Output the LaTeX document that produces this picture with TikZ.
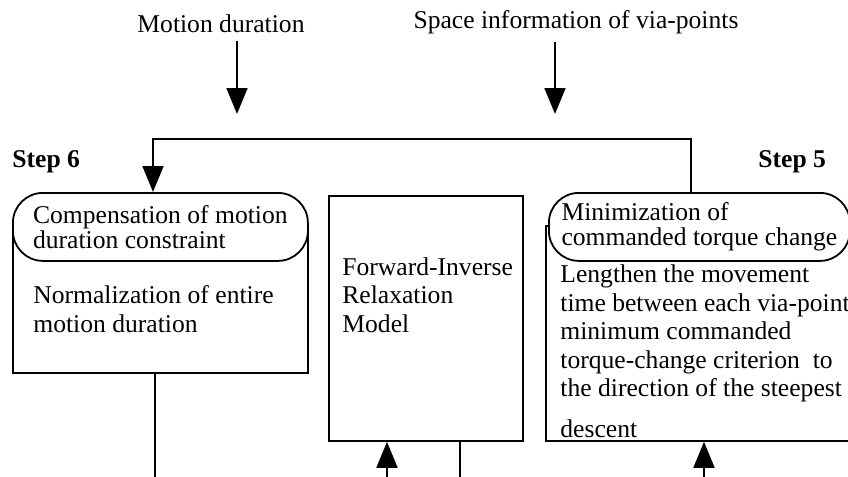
\documentclass[tikz,border=0pt]{standalone}
\usepackage{fontspec}
\setmainfont{Liberation Serif}
\usetikzlibrary{arrows.meta,positioning}
\tikzset{
  toplabel/.style={anchor=base,inner sep=4pt,font=\fontsize{12.8}{14.25}\selectfont},
  steplabel/.style={anchor=base west,inner sep=0pt,font=\fontsize{12.8}{14.25}\selectfont\bfseries},
  outerbox/.style={draw,line width=.9pt,anchor=north west,inner sep=0pt},
  headbox/.style={
    draw,fill=white,line width=.9pt,rounded corners=15pt,
    anchor=north west,minimum height=34pt,align=left,inner sep=0pt,
    font=\fontsize{12.8}{12.5}\selectfont
  },
  bodytext/.style={anchor=base west,align=left,inner sep=0pt,font=\fontsize{12.8}{14.25}\selectfont},
  arrow/.style={-{Triangle[length=13pt,width=10.5pt]},line width=.9pt},
  link/.style={line width=.9pt}
}

\begin{document}
\begin{tikzpicture}[x=0.5pt,y=-0.5pt]
\useasboundingbox (0,0) rectangle (848,477);
\clip (0,0) rectangle (848,477);
\node[toplabel] (dur) at (221,32) {Motion duration};
\node[toplabel] (space) at (576,28) {Space information of via-points};
\coordinate (durtip) at (237,114);
\coordinate (spacetip) at (555,114);
\draw[arrow] (dur.south -| durtip) -- (durtip);
\draw[arrow] (space.south -| spacetip) -- (spacetip);

\node[steplabel] (step6) at (12,167) {Step 6};
\node[steplabel] (step5) at (758,167) {Step 5};

\node[outerbox,minimum width=147.5pt,minimum height=73.5pt] (compbox) at (12,225) {};
\node[headbox,minimum width=147.5pt] (comphead) at (12,192)
{Compensation of motion\\duration constraint};
\node[bodytext] (comptext) at (33,332) {Normalization of entire\\motion duration};

\node[outerbox,minimum width=97pt,minimum height=122.5pt] (firbox) at (328,195) {};
\node[bodytext] (firtext) at (342,332) {Forward-Inverse\\Relaxation\\Model};

\node[outerbox,minimum width=163pt,minimum height=107.5pt] (minibox) at (545,225) {};
\node[headbox,minimum width=150.5pt] (minihead) at (548,192)
{Minimization of\\commanded torque change};
\node[bodytext] (minitext) at (560,437)
{Lengthen the movement\\time between each via-point\\minimum commanded\\
torque-change criterion\ \ to\\the direction of the steepest\\[6pt]descent};

\coordinate (backtop) at (691,139);
\coordinate (backleft) at (153,139);
\draw[arrow] (minihead.north -| backtop) -- (backtop) -- (backleft) -- (backleft |- comphead.north);

\coordinate (compout) at (155,480);
\coordinate (firin) at (387,480);
\coordinate (firout) at (460,480);
\coordinate (miniin) at (704,480);
\draw[link] (compbox.south -| compout) -- (compout);
\draw[arrow] (firin) -- (firin |- firbox.south);
\draw[link] (firbox.south -| firout) -- (firout);
\draw[arrow] (miniin) -- (miniin |- minibox.south);
\end{tikzpicture}
\end{document}
